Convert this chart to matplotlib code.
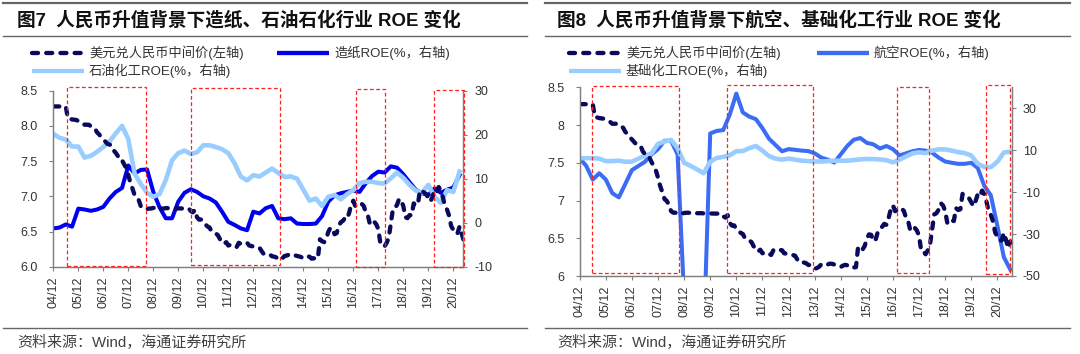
import numpy as np
import matplotlib
matplotlib.use('Agg')
import matplotlib.pyplot as plt
from matplotlib.lines import Line2D
from matplotlib.patches import Rectangle

plt.rcParams['font.family'] = ['Liberation Sans', 'Noto Sans CJK SC']
plt.rcParams['axes.unicode_minus'] = False

# month-end USD/CNY central parity, 2004/12 .. 2021/06
usd_cny = [
    8.2765,
    8.2765, 8.2765, 8.2765, 8.2765, 8.2765, 8.2765, 8.1062, 8.1007, 8.0920, 8.0876, 8.0845, 8.0702,
    8.0608, 8.0415, 8.0170, 8.0165, 8.0170, 7.9956, 7.9897, 7.9620, 7.9087, 7.8792, 7.8414, 7.8087,
    7.7776, 7.7446, 7.7342, 7.7247, 7.6516, 7.6155, 7.5720, 7.5720, 7.5108, 7.4555, 7.3997, 7.3046,
    7.1918, 7.1103, 7.0190, 6.9953, 6.9472, 6.8591, 6.8388, 6.8395, 6.8183, 6.8258, 6.8271, 6.8346,
    6.8382, 6.8379, 6.8359, 6.8263, 6.8259, 6.8319, 6.8322, 6.8322, 6.8290, 6.8279, 6.8272, 6.8282,
    6.8270, 6.8269, 6.8263, 6.8259, 6.8281, 6.7909, 6.7735, 6.8069, 6.7011, 6.6676, 6.6705, 6.6227,
    6.6017, 6.5713, 6.5564, 6.4990, 6.4905, 6.4716, 6.4478, 6.3925, 6.3549, 6.3233, 6.3482, 6.3009,
    6.3115, 6.2919, 6.2943, 6.2787, 6.3393, 6.3249, 6.3309, 6.3449, 6.3410, 6.3016, 6.2940, 6.2855,
    6.2795, 6.2779, 6.2689, 6.2208, 6.1796, 6.1787, 6.1788, 6.1709, 6.1480, 6.1425, 6.1325, 6.0969,
    6.1050, 6.1214, 6.1521, 6.1580, 6.1695, 6.1528, 6.1636, 6.1613, 6.1525, 6.1461, 6.1361, 6.1190,
    6.1370, 6.1475, 6.1422, 6.1137, 6.1196, 6.1136, 6.1172, 6.3893, 6.3613, 6.3495, 6.3962, 6.4936,
    6.5516, 6.5452, 6.4612, 6.4762, 6.5790, 6.6312, 6.6511, 6.6908, 6.6778, 6.7641, 6.8865, 6.9370,
    6.8588, 6.8750, 6.8993, 6.8931, 6.8633, 6.7744, 6.7283, 6.6010, 6.6369, 6.6397, 6.6034, 6.5342,
    6.3339, 6.3294, 6.2881, 6.3393, 6.4078, 6.6166, 6.8165, 6.8317, 6.8792, 6.9646, 6.9357, 6.8632,
    6.7025, 6.6901, 6.7335, 6.7286, 6.8992, 6.8747, 6.8841, 7.0879, 7.0729, 7.0533, 7.0298, 6.9762,
    6.9249, 6.9920, 7.0851, 7.0571, 7.1316, 7.0795, 6.9848, 6.8605, 6.8101, 6.7232, 6.5755, 6.5249,
    6.4709, 6.4713, 6.5713, 6.4749, 6.3682, 6.4601,
]

# quarterly ROE (%), from 2004Q4
paper_roe = [
    -1.3, -1.1, -0.4, -0.9, 3.2, 3.0, 2.7, 3.0, 3.6, 5.5, 7.0, 7.9,
    13.0, 11.2, 12.0, 12.1, 7.0, 3.5, 1.0, 1.0, 4.8, 6.8, 7.6, 7.0,
    6.0, 5.5, 4.6, 2.5, 0.2, -0.5, -1.3, -1.7, 2.5, 2.1, 3.3, 3.8,
    1.0, 0.8, 1.0, -0.2, -0.3, -0.3, -0.2, 1.5, 4.8, 6.2, 6.7, 7.0,
    7.3, 7.0, 9.0, 10.6, 11.6, 11.4, 12.8, 12.5, 11.0, 9.2, 7.5, 6.7,
    6.3, 7.8, 6.8, 7.5, 8.0, 10.8,
]
petro_roe = [
    20.2, 19.3, 18.9, 17.3, 17.3, 14.8, 15.2, 16.1, 17.2, 18.5, 20.3, 22.0,
    19.0, 11.2, 8.8, 6.8, 5.9, 6.5, 9.7, 14.2, 15.8, 16.4, 15.6, 16.0,
    17.6, 17.6, 17.2, 16.7, 15.8, 13.5, 10.5, 9.6, 10.8, 10.5, 11.4, 12.3,
    11.3, 10.4, 10.5, 10.0, 7.5, 5.0, 5.5, 3.8, 5.9, 6.3, 5.3, 6.5,
    7.4, 9.0, 9.3, 9.3, 9.0, 8.9, 10.1, 11.4, 10.2, 8.6, 7.3, 6.8,
    8.6, 5.9, 4.5, 7.4, 7.0, 11.6,
]
airline_roe = [
    6.2, 2.5, -4.0, -1.0, -4.0, -10.5, -12.5, -6.0, 0.5, 2.5, 4.5, 8.0,
    10.5, 14.5, 14.5, 8.0, -60.0, -85.0, -90.0, -80.0, 18.0, 19.2, 19.6, 27.0,
    37.0, 28.0, 26.0, 24.8, 20.5, 15.5, 12.5, 9.5, 10.5, 10.2, 9.8, 9.6,
    8.5, 6.5, 5.5, 4.1, 8.0, 12.0, 15.0, 15.8, 13.5, 12.8, 10.8, 12.0,
    10.5, 7.5, 8.5, 9.5, 10.1, 9.8, 8.8, 6.5, 4.6, 4.0, 3.5, 3.5,
    4.0, 1.5, -7.0, -11.5, -26.0, -41.0, -47.0,
]
basic_chem_roe = [
    6.2, 6.2, 6.2, 6.0, 4.8, 4.8, 5.0, 4.5, 4.5, 6.0, 7.3, 8.5,
    13.0, 14.1, 14.9, 11.0, 4.0, 2.5, 0.8, -1.0, 4.5, 6.3, 6.8, 7.6,
    9.5, 9.6, 11.0, 12.0, 9.8, 7.2, 6.0, 5.5, 6.0, 5.5, 5.0, 4.8,
    4.6, 4.6, 4.8, 5.0, 5.0, 5.0, 5.3, 5.6, 5.8, 5.8, 5.6, 5.2,
    4.2, 5.5, 7.0, 8.5, 9.0, 8.6, 9.8, 10.4, 10.4, 9.8, 9.1, 8.6,
    7.5, 3.5, 2.0, 1.9, 4.5, 8.9, 9.3,
]

xtick_labels = ['04/12', '05/12', '06/12', '07/12', '08/12', '09/12', '10/12', '11/12', '12/12',
                '13/12', '14/12', '15/12', '16/12', '17/12', '18/12', '19/12', '20/12']

# highlighted appreciation periods, months since 2004/12
left_boxes = [(6.8, 44.6, 8.557, 6.01), (66.0, 108.6, 8.534, 6.024),
              (145.5, 159.3, 8.524, 6.0), (182.8, 197.2, 8.51, 5.99)]
right_boxes = [(5.5, 45.8, 8.517, 6.035), (67.9, 107.4, 8.53, 6.035),
               (146.0, 160.6, 8.5, 6.035), (186.7, 197.8, 8.535, 6.03)]

W, H = 1080, 354
fig = plt.figure(figsize=(W / 100, H / 100), dpi=100)


def fx(x):
    return x / W


def fy(y):
    return 1 - y / H


NAVY = '#0a0a5c'
DASH = (0, (1.4, 1.9))
GRAY = '#808080'


def panel(x0, x1, ytop, ybot, xmax, left_fmt, rlim, rticks, series, boxes):
    ax = fig.add_axes([fx(x0), fy(ybot), (x1 - x0) / W, (ybot - ytop) / H])
    ax2 = ax.twinx()
    ax.set_zorder(ax2.get_zorder() + 1)
    ax.patch.set_visible(False)

    m = np.arange(len(usd_cny))
    ax.plot(m, usd_cny, color=NAVY, lw=3.1, ls=DASH, dash_capstyle='round')
    for vals, color, lw in series:
        q = np.arange(len(vals)) * 3
        ax2.plot(q, vals, color=color, lw=lw, solid_joinstyle='round')

    ax.set_xlim(0, xmax)
    ax.set_ylim(6.0, 8.5)
    ax.set_yticks(np.arange(6.0, 8.51, 0.5))
    ax.set_yticklabels([left_fmt % v for v in np.arange(6.0, 8.51, 0.5)])
    ax2.set_ylim(*rlim)
    ax2.set_yticks(rticks)
    ax.set_xticks(np.arange(0, 193, 12))
    ax.set_xticklabels(xtick_labels, rotation=90)

    for a in (ax, ax2):
        a.spines['top'].set_visible(False)
        for s in ('left', 'right', 'bottom'):
            a.spines[s].set_color(GRAY)
            a.spines[s].set_linewidth(0.9)
        a.tick_params(colors='#333333', labelsize=9, length=3, width=0.8,
                      color=GRAY)
    ax.tick_params(axis='y', pad=8)
    ax.tick_params(axis='x', pad=4)
    ax2.tick_params(axis='y', pad=5)

    for (a, b, t, btm) in boxes:
        ax.add_patch(Rectangle((a, btm), b - a, t - btm, fill=False, ec='#ff2020',
                               lw=0.9, ls=(0, (3, 2)), clip_on=False, zorder=5))
    return ax


panel(53.3, 463.3, 90.7, 266.7, 196.8, '%.1f', (-10, 30), [-10, 0, 10, 20, 30],
      [(paper_roe, '#0000f0', 2.9), (petro_roe, '#99ccff', 3.3)], left_boxes)
panel(579.7, 1011.7, 87.3, 276.0, 198.6, '%g', (-50, 40), [-50, -30, -10, 10, 30],
      [(airline_roe, '#3a6cf4', 2.9), (basic_chem_roe, '#99ccff', 3.3)], right_boxes)


def hline(x0, x1, y, lw, color='#666666'):
    fig.add_artist(Line2D([fx(x0), fx(x1)], [fy(y), fy(y)], color=color, lw=lw))


def legend_item(x0, x1, y, text, color, lw, ls='-', cap='butt'):
    fig.add_artist(Line2D([fx(x0), fx(x1)], [fy(y), fy(y)], color=color, lw=lw,
                          ls=ls, dash_capstyle=cap, solid_capstyle=cap))
    fig.text(fx(x1 + 5), fy(y), text, fontsize=9.5, va='center', ha='left',
             color='#333333')


for off, title, t2, t3 in [(0, '图7  人民币升值背景下造纸、石油石化行业 ROE 变化',
                            '造纸ROE(%，右轴)', '石油化工ROE(%，右轴)'),
                           (540, '图8  人民币升值背景下航空、基础化工行业 ROE 变化',
                            '航空ROE(%，右轴)', '基础化工ROE(%，右轴)')]:
    lx = 3 if off == 0 else 545
    rx = 527 if off == 0 else 1070
    hline(lx, rx, 2.7, 1.6)
    hline(lx, rx, 35.5, 1.0)
    hline(lx, rx, 328.3, 1.0)
    fig.text(fx(off + 17), fy(20), title, fontsize=13.4, fontweight='bold',
             va='center', ha='left', color='#111111')
    fig.text(fx(off + 17), fy(343), '资料来源：Wind，海通证券研究所', fontsize=10.8,
             va='center', ha='left', color='#404040')
    a0 = 32 if off == 0 else 29
    legend_item(off + a0, off + a0 + 52, 53, '美元兑人民币中间价(左轴)', NAVY, 3.1,
                DASH, 'round')
    legend_item(off + 277, off + 329, 53, t2, '#0000f0' if off == 0 else '#3a6cf4', 3.1)
    legend_item(off + a0, off + a0 + 52, 71, t3, '#99ccff', 3.1)

fig.savefig('out.png', dpi=100)
